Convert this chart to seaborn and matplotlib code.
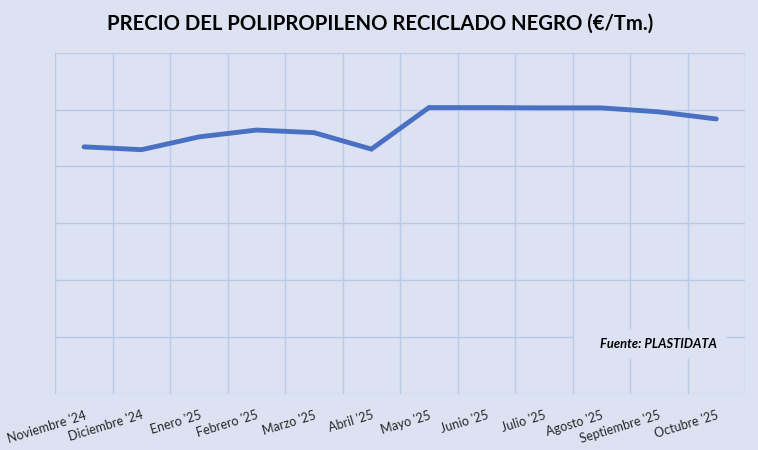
import matplotlib
matplotlib.use("Agg")
import matplotlib.pyplot as plt
import seaborn as sns
import pandas as pd
import numpy as np

months = ["Noviembre '24", "Diciembre '24", "Enero '25", "Febrero '25", "Marzo '25",
          "Abril '25", "Mayo '25", "Junio '25", "Julio '25", "Agosto '25",
          "Septiembre '25", "Octubre '25"]
prices = [869, 859, 904, 928, 919, 861, 1007, 1007, 1006, 1006, 992, 967]
y_ticks = [0, 200, 400, 600, 800, 1000, 1200]

title = "PRECIO DEL POLIPROPILENO RECICLADO NEGRO (€/Tm.)"
source = "Fuente: PLASTIDATA"

bg = "#DCE2F2"
grid_c = "#B9C9E8"
line_c = "#4A70C4"

sns.set_theme(style="white", rc={"axes.facecolor": bg, "figure.facecolor": bg,
                                 "savefig.facecolor": bg})
plt.rcParams['font.family'] = ['Lato', 'DejaVu Sans']

df = pd.DataFrame({"mes": months, "precio": prices})

fig = plt.figure(figsize=(7.58, 4.5), dpi=100)
ax = fig.add_axes([55.3/758, 1-394/450, (745-55.3)/758, (394-52.7)/450])

sns.lineplot(data=df, x="mes", y="precio", sort=False, ax=ax, color=line_c,
             linewidth=3.5, solid_capstyle="round", solid_joinstyle="miter", zorder=3)

n = len(months)
ax.set_xlim(-0.5, n - 0.5)
ax.set_ylim(y_ticks[0], y_ticks[-1])
ax.set_yticks(y_ticks)
ax.set_yticklabels([])
ax.set_xticks(range(n))
ax.set_xticklabels(months, rotation=17, ha="right", rotation_mode="anchor",
                   fontsize=9.0, color="#262626")
ax.tick_params(axis="both", which="both", length=0)
ax.tick_params(axis="x", which="major", pad=11)
ax.grid(False)
for s in ax.spines.values():
    s.set_visible(False)
ax.set_xlabel("")
ax.set_ylabel("")

# grid lines, leaving a gap where the source note sits
box_x0, box_x1 = (573 - 55.3) / 689.7, (726 - 55.3) / 689.7   # axes fraction
box_y0, box_y1 = (394 - 359) / 341.3, (394 - 328) / 341.3      # axes fraction
gkw = dict(color=grid_c, linewidth=1.0, zorder=0.5)
for yv in y_ticks:
    fy = (yv - y_ticks[0]) / (y_ticks[-1] - y_ticks[0])
    if box_y0 < fy < box_y1:
        ax.axhline(yv, 0, box_x0, **gkw)
        ax.axhline(yv, box_x1, 1, **gkw)
    else:
        ax.axhline(yv, **gkw)
for xb in np.arange(-0.5, n, 1.0):
    fx = (xb + 0.5) / n
    if box_x0 + 0.002 < fx < box_x1:
        ax.axvline(xb, 0, box_y0, **gkw)
        ax.axvline(xb, box_y1, 1, **gkw)
    else:
        ax.axvline(xb, **gkw)

fig.text(380/758, 1-24/450, title, ha="center", va="center", fontsize=14.6,
         fontweight="bold", color="black")

ax.text(658/758, 1-344/450, source, transform=fig.transFigure, ha="center", va="center",
        fontsize=9.3, fontweight="bold", fontstyle="italic", color="black", zorder=5)

fig.savefig("out.png", dpi=100)
